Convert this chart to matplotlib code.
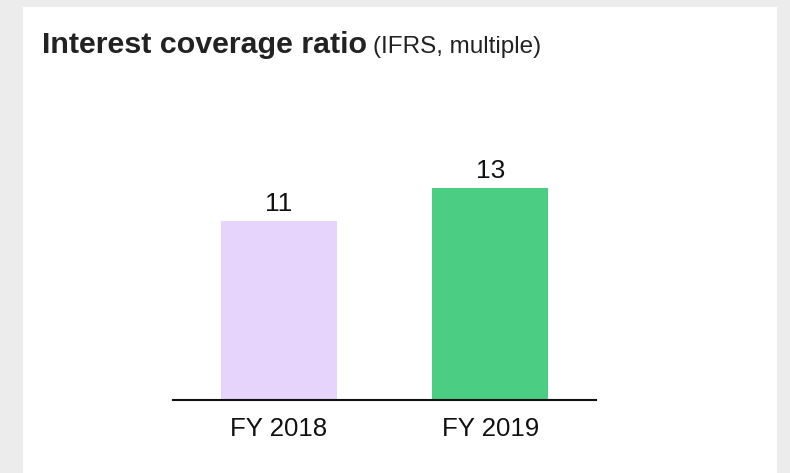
import matplotlib.pyplot as plt
from matplotlib.patches import Rectangle

plt.rcParams['font.family'] = ['Liberation Sans', 'DejaVu Sans']

# chart data
years = ['FY 2018', 'FY 2019']
ratios = [11, 13]
bar_colors = ['#e6d4fc', '#4bcd83']

fig = plt.figure(figsize=(7.9, 4.73), dpi=100)
fig.patch.set_facecolor('#ececec')

# white card behind the chart
card = Rectangle((23 / 790, 0), 754 / 790, 1 - 7 / 473, transform=fig.transFigure,
                 facecolor='white', edgecolor='none', zorder=-5)
fig.patches.append(card)

fig.text(42 / 790, 1 - 53 / 473, 'Interest coverage ratio', fontsize=21.9, fontweight='bold',
         color='#222222', va='baseline')
fig.text(373 / 790, 1 - 53 / 473, '(IFRS, multiple)', fontsize=17.5, color='#222222',
         va='baseline')

ax = fig.add_axes([173 / 790, 73 / 473, 423 / 790, 244.5 / 473])
ax.set_zorder(2)
ax.set_facecolor('none')
x = range(len(years))
bars = ax.bar(x, ratios, width=0.55, color=bar_colors)
ax.set_xlim(-0.5, 1.5)
ax.set_ylim(0, 15)

for b, v in zip(bars, ratios):
    ax.annotate(str(v), (b.get_x() + b.get_width() / 2, v), xytext=(0, 7.2),
                textcoords='offset points', ha='center', va='baseline', fontsize=19, color='#111111')

ax.set_xticks(list(x))
ax.set_xticklabels(years, fontsize=18.6, color='#111111')
ax.tick_params(axis='x', length=0, pad=12.5)
ax.set_yticks([])
for side in ['top', 'left', 'right']:
    ax.spines[side].set_visible(False)
ax.spines['bottom'].set_linewidth(1.5)
ax.spines['bottom'].set_color('#111111')

plt.savefig('out.png', dpi=100, facecolor=fig.get_facecolor())
